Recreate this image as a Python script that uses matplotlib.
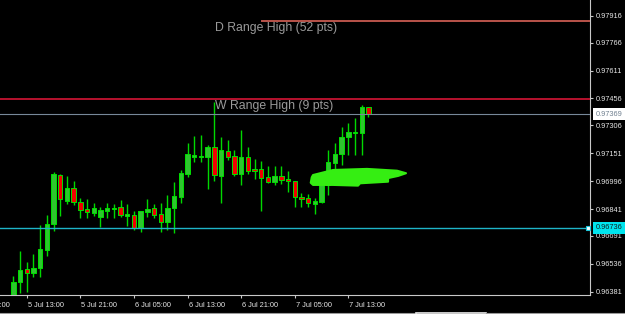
import matplotlib
matplotlib.use('Agg')
import matplotlib.pyplot as plt
import matplotlib.transforms as mtransforms
from matplotlib.patches import Polygon
from matplotlib.lines import Line2D

# Hourly candles, index 0 = 5 Jul 11:00
opens = [0.96357, 0.96437, 0.96506, 0.96487, 0.96511, 0.96613, 0.96758, 0.97030, 0.96886, 0.96956,
         0.96880, 0.96839, 0.96820, 0.96798, 0.96832, 0.96841, 0.96850, 0.96804, 0.96808, 0.96734,
         0.96824, 0.96845, 0.96813, 0.96770, 0.96845, 0.96909, 0.97036, 0.97129, 0.97130, 0.97132,
         0.97188, 0.97025, 0.97164, 0.97136, 0.97036, 0.97132, 0.97062, 0.97062, 0.97017, 0.96990,
         0.97026, 0.97010, 0.96998, 0.96909, 0.96900, 0.96869, 0.96882, 0.96975, 0.97099, 0.97145,
         0.97243, 0.97262, 0.97262, 0.97407]
highs = [0.96470, 0.96607, 0.96545, 0.96591, 0.96752, 0.96808, 0.97048, 0.97036, 0.97025, 0.96997,
         0.96904, 0.96895, 0.96876, 0.96854, 0.96873, 0.96867, 0.96891, 0.96867, 0.96830, 0.96832,
         0.96895, 0.96869, 0.96876, 0.96919, 0.96993, 0.97058, 0.97206, 0.97249, 0.97253, 0.97197,
         0.97438, 0.97239, 0.97222, 0.97169, 0.97280, 0.97184, 0.97117, 0.97110, 0.97080, 0.97082,
         0.97080, 0.97055, 0.96998, 0.96928, 0.96923, 0.96900, 0.96986, 0.97169, 0.97206, 0.97299,
         0.97321, 0.97346, 0.97419, 0.97410]
lows = [0.96346, 0.96372, 0.96379, 0.96464, 0.96464, 0.96580, 0.96720, 0.96804, 0.96867, 0.96863,
        0.96793, 0.96789, 0.96802, 0.96743, 0.96789, 0.96789, 0.96798, 0.96746, 0.96724, 0.96715,
        0.96798, 0.96789, 0.96715, 0.96724, 0.96709, 0.96874, 0.97021, 0.97104, 0.97104, 0.96952,
        0.96997, 0.96874, 0.97114, 0.97025, 0.96975, 0.97036, 0.97006, 0.96832, 0.96987, 0.96975,
        0.96980, 0.96937, 0.96850, 0.96854, 0.96850, 0.96815, 0.96874, 0.96919, 0.97054, 0.97086,
        0.97141, 0.97141, 0.97141, 0.97354]
closes = [0.96437, 0.96502, 0.96487, 0.96515, 0.96617, 0.96758, 0.97036, 0.96895, 0.96956, 0.96878,
          0.96835, 0.96823, 0.96845, 0.96835, 0.96848, 0.96847, 0.96808, 0.96812, 0.96734, 0.96832,
          0.96839, 0.96808, 0.96770, 0.96848, 0.96913, 0.97040, 0.97145, 0.97141, 0.97133, 0.97188,
          0.97030, 0.97169, 0.97130, 0.97036, 0.97132, 0.97054, 0.97055, 0.97012, 0.96990, 0.97026,
          0.97002, 0.96997, 0.96906, 0.96895, 0.96874, 0.96886, 0.96975, 0.97104, 0.97147, 0.97243,
          0.97268, 0.97268, 0.97407, 0.97369]

time_ticks = [-6, 2, 10, 18, 26, 34, 42, 50]
time_labels = ["5 Jul 05:00", "5 Jul 13:00", "5 Jul 21:00", "6 Jul 05:00",
               "6 Jul 13:00", "6 Jul 21:00", "7 Jul 05:00", "7 Jul 13:00"]
price_ticks = [0.97916, 0.97766, 0.97611, 0.97456, 0.97306, 0.97151,
               0.96996, 0.96841, 0.96691, 0.96536, 0.96381]

d_range_high = 0.97888
d_range_start = 37
w_range_high = 0.97454
bid_price = 0.97369
level_price = 0.96736
label_x = 30.1
d_label = "D Range High (52 pts)"
w_label = "W Range High (9 pts)"

scribble_x = [44.54, 44.73, 47.72, 52.79, 57.27, 58.61, 57.42, 55.93, 55.93, 51.75, 51.45, 47.72, 44.73, 44.39]
scribble_y = [0.97017, 0.97030, 0.97058, 0.97064, 0.97054, 0.97040, 0.97025, 0.97013, 0.96993, 0.96984,
              0.96971, 0.96975, 0.96975, 0.96987]

FONT = 'Liberation Sans'
fig = plt.figure(figsize=(6.25, 3.14), dpi=100, facecolor='black')
ax = fig.add_axes([0, 19 / 314, 590 / 625, 295 / 314], facecolor='black')
ax.set_xlim(-1.99, 86.07)
ax.set_ylim(0.96363, 0.98003)

xs = list(range(len(opens)))
ax.vlines(xs, lows, highs, color='#00D800', lw=1.0, zorder=2)
for x, o, c in zip(xs, opens, closes):
    bull = c >= o
    bottom = min(o, c)
    h = max(abs(c - o), 0.000012)
    ax.bar(x, h, bottom=bottom, width=0.66, color='#2FC42F' if bull else '#F00000',
           edgecolor='#00E000', linewidth=0.7, zorder=3)

# horizontal levels
ax.hlines(d_range_high, d_range_start, 86.07, color='#EC6A5E', lw=1.1, zorder=4)
ax.axhline(w_range_high, color='#E8173A', lw=1.1, zorder=4)
ax.axhline(bid_price, color='#778899', lw=0.8, zorder=4)
ax.axhline(level_price, color='#1EB4C8', lw=1.0, zorder=4)
btrans = mtransforms.blended_transform_factory(ax.transAxes, ax.transData)
ax.plot([0.9965], [level_price], transform=btrans, marker='s', ms=3.2, mfc='white',
        mec='#1EC8DC', mew=0.8, zorder=6, clip_on=False)

for txt, lvl in [(d_label, d_range_high), (w_label, w_range_high)]:
    ax.annotate(txt, xy=(label_x, lvl), xytext=(0, -5.3), textcoords='offset points',
                ha='left', va='center', color='#9A9A9A', fontsize=8.8, family=FONT, zorder=5)

# scribble
ax.add_patch(Polygon(list(zip(scribble_x, scribble_y)), closed=True, fc='#35EE12', ec='#35EE12',
                     lw=1.5, joinstyle='round', zorder=7))

# axes styling
for s in ['top', 'left']:
    ax.spines[s].set_visible(False)
for s in ['right', 'bottom']:
    ax.spines[s].set_color('#C8C8C8')
    ax.spines[s].set_linewidth(0.8)
ax.yaxis.tick_right()
ax.set_yticks(price_ticks)
ax.set_yticklabels([f'{p:.5f}' for p in price_ticks])
ax.tick_params(axis='y', colors='#C8C8C8', labelcolor='#E6E6E6', labelsize=5.3, length=2.5,
               width=0.8, pad=1.5, direction='out')
for lab in ax.get_yticklabels():
    lab.set_family(FONT)
ax.set_xticks([t for t in time_ticks if t > -1.99])
ax.set_xticklabels([])
ax.tick_params(axis='x', colors='#C8C8C8', length=2.5, width=0.8, direction='out')

xtrans = mtransforms.blended_transform_factory(ax.transData, ax.transAxes)
for t, lab in zip(time_ticks, time_labels):
    ax.text(t + 0.15, -0.034, lab, transform=xtrans, ha='left', va='center', color='#E6E6E6',
            fontsize=5.3, family=FONT, clip_on=False)

# price boxes
ax.annotate(f'{bid_price:.5f}', xy=(1, bid_price), xycoords=btrans, xytext=(4, 0),
            textcoords='offset points', ha='left', va='center', fontsize=5.3, family=FONT,
            color='#708090', bbox=dict(boxstyle='square,pad=0.3', fc='white', ec='none'),
            annotation_clip=False, zorder=8)
ax.annotate(f'{level_price:.5f}', xy=(1, level_price), xycoords=btrans, xytext=(4, 0),
            textcoords='offset points', ha='left', va='center', fontsize=5.3, family=FONT,
            color='#102020', bbox=dict(boxstyle='square,pad=0.3', fc='#00E5EE', ec='none'),
            annotation_clip=False, zorder=8)

# window bottom border
yb = 1 - 312.5 / 314
fig.add_artist(Line2D([0, 416 / 625], [yb, yb], color='#9A9A9A', lw=0.8, transform=fig.transFigure))
fig.add_artist(Line2D([416 / 625, 486 / 625], [yb, yb], color='#F0F0F0', lw=1.2, transform=fig.transFigure))
fig.add_artist(Line2D([486 / 625, 1], [yb, yb], color='#9A9A9A', lw=0.8, transform=fig.transFigure))

fig.savefig('out.png', dpi=100, facecolor='black')
